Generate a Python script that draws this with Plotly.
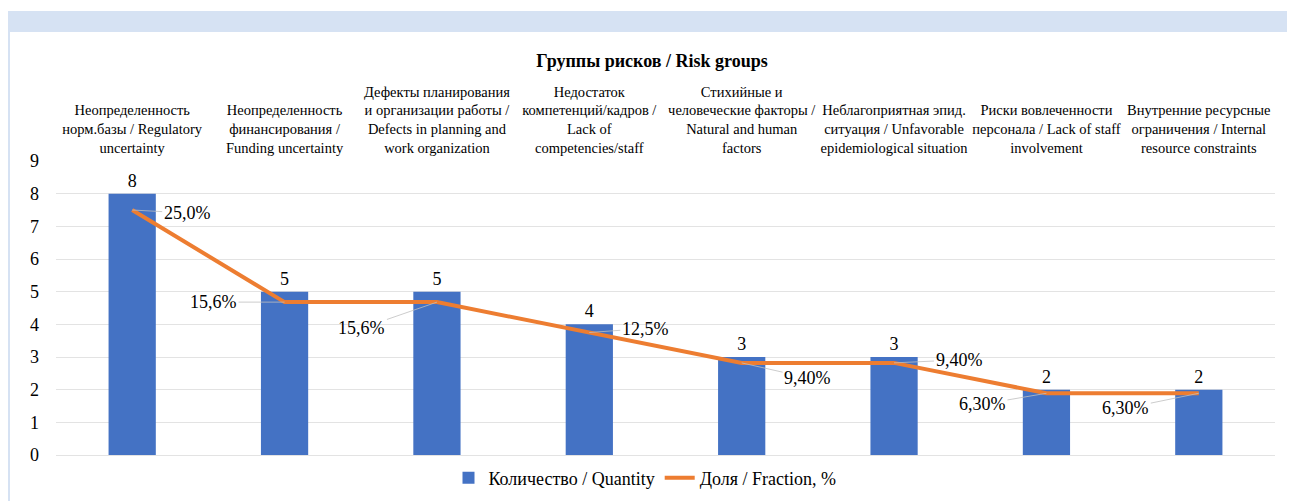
import plotly.graph_objects as go

categories = [
    "Неопределенность<br>норм.базы / Regulatory<br>uncertainty",
    "Неопределенность<br>финансирования /<br>Funding uncertainty",
    "Дефекты планирования<br>и организации работы /<br>Defects in planning and<br>work organization",
    "Недостаток<br>компетенций/кадров /<br>Lack of<br>competencies/staff",
    "Стихийные и<br>человеческие факторы /<br>Natural and human<br>factors",
    "Неблагоприятная эпид.<br>ситуация / Unfavorable<br>epidemiological situation",
    "Риски вовлеченности<br>персонала / Lack of staff<br>involvement",
    "Внутренние ресурсные<br>ограничения / Internal<br>resource constraints",
]
quantity = [8, 5, 5, 4, 3, 3, 2, 2]
fraction = [25.0, 15.6, 15.6, 12.5, 9.4, 9.4, 6.3, 6.3]
fraction_labels = ["25,0%", "15,6%", "15,6%", "12,5%", "9,40%", "9,40%", "6,30%", "6,30%"]
y_ticks = list(range(0, 10))

# label offsets (pixels) for the fraction data labels
label_offsets = [(55, 3), (-71, 0), (-75, 26), (56, -4), (66, 15), (65, -3), (-64, 11), (-73, 15)]

FONT = "'Times New Roman', 'Liberation Serif', 'DejaVu Serif', serif"
BLUE = "#4472C4"
ORANGE = "#ED7D31"

W, H = 1295, 501
OFF = 8  # page offset of the figure div (body margin)
# plot area in page pixels: x 56..1275, y 161..455
L = 56 - OFF
T = 161 - OFF
R = W - (1275 - OFF)
B = H - (455 - OFF)
pw, ph = W - L - R, H - T - B


def px_x(p):
    return (p - OFF - L) / pw


def px_y(p):
    return (H - B - (p - OFF)) / ph


fig = go.Figure()
fig.add_trace(go.Bar(
    x=categories, y=quantity, name="Количество / Quantity",
    marker=dict(color=BLUE, line=dict(width=0)), width=0.31,
    text=[str(v) for v in quantity], textposition="outside",
    textfont=dict(family=FONT, size=18, color="#000000"),
    cliponaxis=False,
))
fig.add_trace(go.Scatter(
    x=categories, y=fraction, name="Доля / Fraction, %", yaxis="y2",
    mode="lines", line=dict(color=ORANGE, width=4),
))

annotations = []
for c, f, t, (ox, oy) in zip(categories, fraction, fraction_labels, label_offsets):
    annotations.append(dict(
        x=c, y=f, xref="x", yref="y2", text=t, showarrow=True,
        ax=ox, ay=oy, arrowhead=0, arrowwidth=0.8, arrowcolor="#BFBFBF",
        standoff=0, startstandoff=0,
        font=dict(family=FONT, size=18, color="#000000"),
    ))

shapes = [
    dict(type="rect", xref="paper", yref="paper", layer="below",
         x0=px_x(0), x1=px_x(W + 20), y0=px_y(H + 20), y1=px_y(11),
         fillcolor="#D6E2F3", line=dict(width=0)),
    dict(type="rect", xref="paper", yref="paper", layer="below",
         x0=px_x(10), x1=px_x(W + 20), y0=px_y(H + 20), y1=px_y(32),
         fillcolor="#FFFFFF", line=dict(width=0)),
]

fig.update_layout(
    width=W, height=H,
    margin=dict(l=L, r=R, t=T, b=B, autoexpand=False),
    paper_bgcolor="#FFFFFF", plot_bgcolor="rgba(0,0,0,0)",
    font=dict(family=FONT, color="#000000"),
    title=dict(text="<b>Группы рисков / Risk groups</b>", x=(652 - OFF) / W, xref="container",
               xanchor="center", y=1 - (61 - OFF) / H, yanchor="middle", yref="container",
               font=dict(family=FONT, size=18, color="#000000")),
    xaxis=dict(side="top", type="category", showgrid=False, showline=False,
               ticks="", tickfont=dict(family=FONT, size=14.5, color="#000000"),
               automargin=False, ticklabelstandoff=4),
    yaxis=dict(range=[0, 9], tickvals=y_ticks, showgrid=True, gridcolor="#E3E3E3",
               gridwidth=1, zeroline=True, zerolinecolor="#E3E3E3", zerolinewidth=1,
               showline=False, ticks="", tickfont=dict(family=FONT, size=18, color="#000000"),
               automargin=False, ticklabelstandoff=16),
    yaxis2=dict(range=[0, 30], overlaying="y", visible=False),
    legend=dict(orientation="h", x=(645 - OFF) / W, xref="container", xanchor="center",
                y=px_y(478), yanchor="middle",
                font=dict(family=FONT, size=18, color="#000000"),
                bgcolor="rgba(0,0,0,0)", itemwidth=30),
    bargap=0.69,
    annotations=annotations,
    shapes=shapes,
    showlegend=True,
)

fig.write_html("out.html")
